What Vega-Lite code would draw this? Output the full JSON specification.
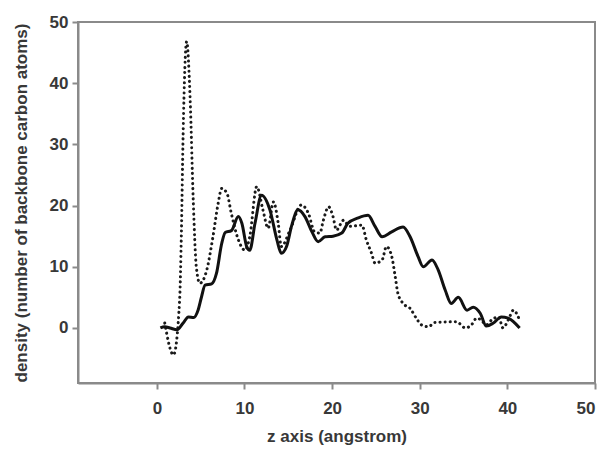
{
  "$schema": "https://vega.github.io/schema/vega-lite/v6.json",
  "width": 517,
  "height": 361,
  "autosize": "none",
  "padding": {"left": 78, "top": 22, "right": 10, "bottom": 69},
  "background": "white",
  "config": {
    "view": {"stroke": "#8a8a8a", "strokeWidth": 2},
    "font": "Liberation Sans",
    "axis": {
      "domainColor": "#8a8a8a",
      "domainWidth": 2,
      "tickColor": "#8a8a8a",
      "tickWidth": 2,
      "tickSize": 6,
      "grid": false,
      "labelFont": "Liberation Sans",
      "labelFontSize": 17,
      "labelFontWeight": "bold",
      "labelColor": "#383838",
      "titleFont": "Liberation Sans",
      "titleFontSize": 17,
      "titleFontWeight": "bold",
      "titleColor": "#383838"
    }
  },
  "data": {
    "values": [
      {"z": 0.4, "d": 0.0, "s": "solid"},
      {"z": 0.9, "d": 0.2, "s": "solid"},
      {"z": 1.5, "d": 0.0, "s": "solid"},
      {"z": 2.3, "d": -0.3, "s": "solid"},
      {"z": 3.0, "d": 0.8, "s": "solid"},
      {"z": 3.6, "d": 1.8, "s": "solid"},
      {"z": 4.2, "d": 1.7, "s": "solid"},
      {"z": 4.7, "d": 2.9, "s": "solid"},
      {"z": 5.1, "d": 5.1, "s": "solid"},
      {"z": 5.5, "d": 7.0, "s": "solid"},
      {"z": 6.25, "d": 7.2, "s": "solid"},
      {"z": 6.8, "d": 8.9, "s": "solid"},
      {"z": 7.4, "d": 13.8, "s": "solid"},
      {"z": 7.8, "d": 15.6, "s": "solid"},
      {"z": 8.5, "d": 15.9, "s": "solid"},
      {"z": 9.3, "d": 18.2, "s": "solid"},
      {"z": 9.7, "d": 17.1, "s": "solid"},
      {"z": 10.25, "d": 13.3, "s": "solid"},
      {"z": 10.6, "d": 12.7, "s": "solid"},
      {"z": 11.2, "d": 17.1, "s": "solid"},
      {"z": 11.95, "d": 21.7, "s": "solid"},
      {"z": 12.9, "d": 19.3, "s": "solid"},
      {"z": 13.7, "d": 14.4, "s": "solid"},
      {"z": 14.2, "d": 12.2, "s": "solid"},
      {"z": 14.8, "d": 13.3, "s": "solid"},
      {"z": 15.4, "d": 16.8, "s": "solid"},
      {"z": 16.1, "d": 19.3, "s": "solid"},
      {"z": 16.9, "d": 18.2, "s": "solid"},
      {"z": 17.7, "d": 15.7, "s": "solid"},
      {"z": 18.4, "d": 14.1, "s": "solid"},
      {"z": 19.2, "d": 14.9, "s": "solid"},
      {"z": 20.1, "d": 15.0, "s": "solid"},
      {"z": 21.1, "d": 15.5, "s": "solid"},
      {"z": 21.8, "d": 17.1, "s": "solid"},
      {"z": 23.0, "d": 18.0, "s": "solid"},
      {"z": 24.1, "d": 18.4, "s": "solid"},
      {"z": 24.9, "d": 16.6, "s": "solid"},
      {"z": 25.7, "d": 14.9, "s": "solid"},
      {"z": 26.8, "d": 15.7, "s": "solid"},
      {"z": 28.1, "d": 16.5, "s": "solid"},
      {"z": 28.9, "d": 14.9, "s": "solid"},
      {"z": 29.8, "d": 11.7, "s": "solid"},
      {"z": 30.4, "d": 10.0, "s": "solid"},
      {"z": 31.4, "d": 11.1, "s": "solid"},
      {"z": 32.1, "d": 9.5, "s": "solid"},
      {"z": 32.9, "d": 6.2, "s": "solid"},
      {"z": 33.6, "d": 4.0, "s": "solid"},
      {"z": 34.4, "d": 5.0, "s": "solid"},
      {"z": 35.4, "d": 2.9, "s": "solid"},
      {"z": 36.1, "d": 3.4, "s": "solid"},
      {"z": 36.9, "d": 2.4, "s": "solid"},
      {"z": 37.6, "d": 0.3, "s": "solid"},
      {"z": 38.4, "d": 0.8, "s": "solid"},
      {"z": 39.3, "d": 1.8, "s": "solid"},
      {"z": 40.1, "d": 1.6, "s": "solid"},
      {"z": 41.4, "d": 0.0, "s": "solid"},
      {"z": 0.9, "d": 0.8, "s": "dotted"},
      {"z": 1.9, "d": -4.4, "s": "dotted"},
      {"z": 2.6, "d": 4.6, "s": "dotted"},
      {"z": 2.8, "d": 15.5, "s": "dotted"},
      {"z": 3.0, "d": 31.8, "s": "dotted"},
      {"z": 3.4, "d": 46.8, "s": "dotted"},
      {"z": 3.8, "d": 37.3, "s": "dotted"},
      {"z": 4.15, "d": 20.9, "s": "dotted"},
      {"z": 4.5, "d": 10.0, "s": "dotted"},
      {"z": 4.9, "d": 7.3, "s": "dotted"},
      {"z": 5.7, "d": 9.5, "s": "dotted"},
      {"z": 6.4, "d": 14.9, "s": "dotted"},
      {"z": 7.0, "d": 20.4, "s": "dotted"},
      {"z": 7.4, "d": 22.8, "s": "dotted"},
      {"z": 8.0, "d": 22.0, "s": "dotted"},
      {"z": 8.5, "d": 18.7, "s": "dotted"},
      {"z": 9.3, "d": 14.4, "s": "dotted"},
      {"z": 10.05, "d": 12.7, "s": "dotted"},
      {"z": 10.6, "d": 14.9, "s": "dotted"},
      {"z": 11.4, "d": 23.1, "s": "dotted"},
      {"z": 12.1, "d": 19.3, "s": "dotted"},
      {"z": 12.7, "d": 16.3, "s": "dotted"},
      {"z": 13.3, "d": 20.6, "s": "dotted"},
      {"z": 13.85, "d": 17.1, "s": "dotted"},
      {"z": 14.2, "d": 13.3, "s": "dotted"},
      {"z": 15.2, "d": 16.0, "s": "dotted"},
      {"z": 16.5, "d": 20.1, "s": "dotted"},
      {"z": 17.3, "d": 18.7, "s": "dotted"},
      {"z": 18.0, "d": 15.7, "s": "dotted"},
      {"z": 18.6, "d": 15.5, "s": "dotted"},
      {"z": 19.0, "d": 17.6, "s": "dotted"},
      {"z": 19.6, "d": 19.8, "s": "dotted"},
      {"z": 20.1, "d": 18.2, "s": "dotted"},
      {"z": 20.5, "d": 16.0, "s": "dotted"},
      {"z": 21.3, "d": 17.6, "s": "dotted"},
      {"z": 22.0, "d": 16.6, "s": "dotted"},
      {"z": 23.4, "d": 16.8, "s": "dotted"},
      {"z": 23.9, "d": 14.4, "s": "dotted"},
      {"z": 24.5, "d": 12.2, "s": "dotted"},
      {"z": 24.9, "d": 10.6, "s": "dotted"},
      {"z": 25.7, "d": 11.1, "s": "dotted"},
      {"z": 26.2, "d": 13.3, "s": "dotted"},
      {"z": 26.8, "d": 11.7, "s": "dotted"},
      {"z": 27.2, "d": 8.4, "s": "dotted"},
      {"z": 27.5, "d": 5.7, "s": "dotted"},
      {"z": 28.1, "d": 4.0, "s": "dotted"},
      {"z": 28.9, "d": 3.2, "s": "dotted"},
      {"z": 29.6, "d": 1.6, "s": "dotted"},
      {"z": 30.2, "d": 0.5, "s": "dotted"},
      {"z": 31.0, "d": 0.2, "s": "dotted"},
      {"z": 31.7, "d": 0.9, "s": "dotted"},
      {"z": 34.2, "d": 1.0, "s": "dotted"},
      {"z": 35.2, "d": 0.0, "s": "dotted"},
      {"z": 35.9, "d": 0.5, "s": "dotted"},
      {"z": 36.5, "d": 1.6, "s": "dotted"},
      {"z": 37.0, "d": 1.3, "s": "dotted"},
      {"z": 37.6, "d": 0.5, "s": "dotted"},
      {"z": 38.2, "d": 1.3, "s": "dotted"},
      {"z": 39.0, "d": 1.8, "s": "dotted"},
      {"z": 39.5, "d": 0.0, "s": "dotted"},
      {"z": 40.1, "d": 1.3, "s": "dotted"},
      {"z": 40.7, "d": 2.9, "s": "dotted"},
      {"z": 41.3, "d": 1.6, "s": "dotted"}
    ]
  },
  "layer": [
    {
      "transform": [{"filter": "datum.s === 'dotted'"}],
      "mark": {"type": "line", "interpolate": "monotone", "color": "#1a1a1a", "strokeWidth": 3, "strokeDash": [0.1, 5], "strokeCap": "round"},
      "encoding": {
        "x": {"field": "z", "type": "quantitative", "scale": {"domain": [-9, 50], "nice": false, "zero": false}, "axis": {"values": [0, 10, 20, 30, 40, 50], "title": "z axis (angstrom)", "labelPadding": 11, "titlePadding": 12}},
        "y": {"field": "d", "type": "quantitative", "scale": {"domain": [-9, 50], "nice": false, "zero": false}, "axis": {"values": [0, 10, 20, 30, 40, 50], "title": "density (number of backbone carbon atoms)", "labelPadding": 4, "titlePadding": 19}}
      }
    },
    {
      "transform": [{"filter": "datum.s === 'solid'"}],
      "mark": {"type": "line", "interpolate": "monotone", "color": "#111111", "strokeWidth": 3, "strokeJoin": "round"},
      "encoding": {
        "x": {"field": "z", "type": "quantitative"},
        "y": {"field": "d", "type": "quantitative"}
      }
    }
  ]
}
